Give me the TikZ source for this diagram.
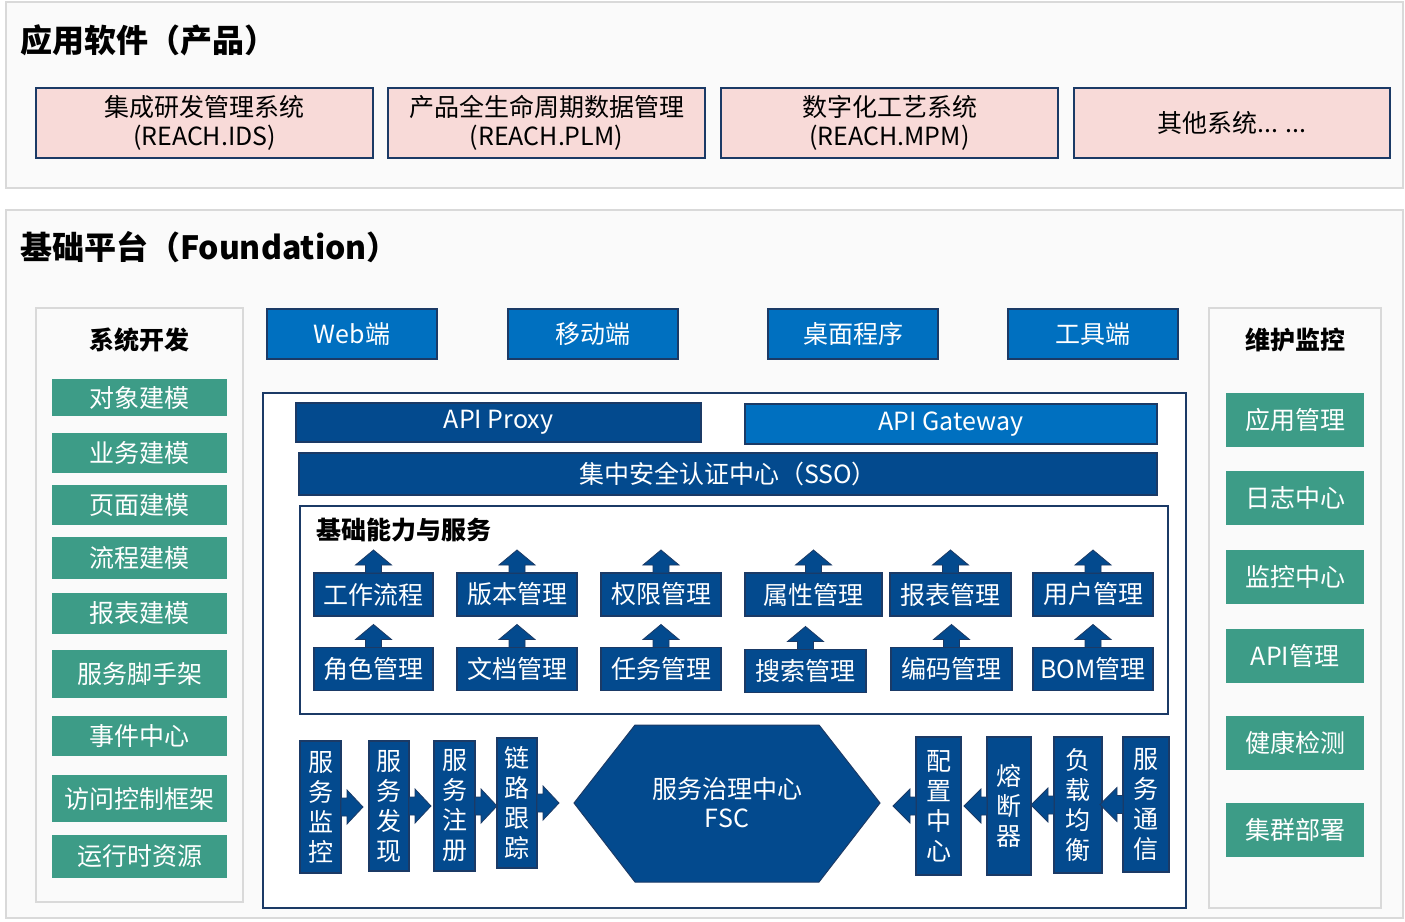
\documentclass[tikz,border=0pt]{standalone}
\usepackage{fontspec}
\setmainfont{Noto Sans CJK SC}
\definecolor{fbdark}{HTML}{034A8E}
\definecolor{fbedge}{HTML}{1B3A66}
\definecolor{fblight}{HTML}{0070C0}
\definecolor{fbpink}{HTML}{F8DAD8}
\definecolor{fbgreen}{HTML}{3D9C87}
\definecolor{panelfill}{HTML}{FAFAFA}
\definecolor{panelline}{HTML}{D9D9D9}
\newcommand\uparr[1]{\filldraw[fbdark,draw=fbedge,line width=0.8pt] (#1.north) ++(-8,0) -- ++(0,-8) -- ++(-10,0) -- ++(18,-15) -- ++(18,15) -- ++(-10,0) -- ++(0,8) -- cycle;}
\newcommand\rarr[1]{\filldraw[fbdark,draw=fbedge,line width=0.8pt] (#1.east) ++(0,-9) -- ++(6,0) -- ++(0,-8) -- ++(16,17) -- ++(-16,17) -- ++(0,-8) -- ++(-6,0) -- cycle;}
\newcommand\larr[1]{\filldraw[fbdark,draw=fbedge,line width=0.8pt] (#1.west) ++(0,-9) -- ++(-6,0) -- ++(0,-8) -- ++(-17,17) -- ++(17,17) -- ++(0,-8) -- ++(6,0) -- cycle;}
\begin{document}
\begin{tikzpicture}[x=1pt,y=-1pt,
  every node/.style={inner sep=0pt,outer sep=0pt,font=\fontsize{25}{29}\selectfont},
  title/.style={anchor=west,font=\fontsize{32}{36}\selectfont\bfseries},
  subtitle/.style={font=\fontsize{25}{29}\selectfont\bfseries},
  pinkbox/.style={draw=fbedge,fill=fbpink,line width=2pt,align=center,minimum height=70pt},
  client/.style={draw=fbedge,fill=fblight,text=white,line width=2pt,minimum width=170pt,minimum height=50pt},
  bar/.style={draw=fbedge,fill=fbdark,text=white,line width=1.5pt},
  svc/.style={draw=fbedge,fill=fbdark,text=white,line width=1.5pt,minimum height=43pt},
  vsvc/.style={draw=fbedge,fill=fbdark,text=white,line width=1.5pt,align=center,font=\fontsize{25}{30}\selectfont},
  greenbox/.style={fill=fbgreen,text=white,minimum width=175pt},
  greenbox2/.style={fill=fbgreen,text=white,minimum width=138pt,minimum height=54pt}]
\useasboundingbox (0,0) rectangle (1405,921);
\fill[white] (0,0) rectangle (1405,921);

\draw[panelline,fill=panelfill,line width=2pt] (6,2) rectangle (1403,188);
\draw[panelline,fill=panelfill,line width=2pt] (6,210) rectangle (1403,918);
\node[title] (app) at (20,40) {应用软件（产品）};
\node[title] (fd) at (20,247) {基础平台（Foundation）};

\node[pinkbox,minimum width=337pt] (ids) at (204.5,123) {集成研发管理系统\\(REACH.IDS)};
\node[pinkbox,minimum width=317pt] (plm) at (546.5,123) {产品全生命周期数据管理\\(REACH.PLM)};
\node[pinkbox,minimum width=337pt] (mpm) at (889.5,123) {数字化工艺系统\\(REACH.MPM)};
\node[pinkbox,minimum width=316pt] (other) at (1232,123) {其他系统... ...};

\draw[panelline,fill=panelfill,line width=2pt] (36,308) rectangle (243,902);
\node[subtitle] (dev) at (139,340) {系统开发};
\node[greenbox,minimum height=37pt] (g1) at (139.5,397.5) {对象建模};
\node[greenbox,minimum height=40pt] (g2) at (139.5,453) {业务建模};
\node[greenbox,minimum height=40pt] (g3) at (139.5,505) {页面建模};
\node[greenbox,minimum height=42pt] (g4) at (139.5,558) {流程建模};
\node[greenbox,minimum height=41pt] (g5) at (139.5,613.5) {报表建模};
\node[greenbox,minimum height=48pt] (g6) at (139.5,674) {服务脚手架};
\node[greenbox,minimum height=40pt] (g7) at (139.5,736) {事件中心};
\node[greenbox,minimum height=47pt] (g8) at (139.5,798.5) {访问控制框架};
\node[greenbox,minimum height=43pt] (g9) at (139.5,856.5) {运行时资源};

\draw[panelline,fill=panelfill,line width=2pt] (1209,308) rectangle (1381,908);
\node[subtitle] (ops) at (1295,340) {维护监控};
\node[greenbox2] (m1) at (1295,420) {应用管理};
\node[greenbox2] (m2) at (1295,498) {日志中心};
\node[greenbox2] (m3) at (1295,576.5) {监控中心};
\node[greenbox2] (m4) at (1295,655.5) {API管理};
\node[greenbox2] (m5) at (1295,742.5) {健康检测};
\node[greenbox2] (m6) at (1295,829.5) {集群部署};

\node[client] (web) at (352,334) {Web端};
\node[client] (mobile) at (592.5,334) {移动端};
\node[client] (desk) at (853,334) {桌面程序};
\node[client] (tool) at (1093,334) {工具端};

\draw[fbedge,fill=white,line width=2pt] (263,393) rectangle (1186,908);
\node[bar,minimum width=405pt,minimum height=39pt] (proxy) at (498.5,422.5) {API Proxy};
\node[bar,fill=fblight,minimum width=412pt,minimum height=40pt] (gw) at (951,424) {API Gateway};
\node[bar,minimum width=858pt,minimum height=42pt] (sso) at (728,474) {集中安全认证中心（SSO）};

\draw[fbedge,fill=white,line width=2pt] (300,506) rectangle (1168,714);
\node[subtitle,anchor=west] (base) at (316,530) {基础能力与服务};

\node[svc,minimum width=119pt] (s1) at (373.5,594.5) {工作流程};
\node[svc,minimum width=120pt] (s2) at (517,594.5) {版本管理};
\node[svc,minimum width=120pt] (s3) at (661,594.5) {权限管理};
\node[svc,minimum width=137pt] (s4) at (813.5,594.5) {属性管理};
\node[svc,minimum width=121pt] (s5) at (950.5,594.5) {报表管理};
\node[svc,minimum width=120pt] (s6) at (1093,594.5) {用户管理};
\node[svc,minimum width=119pt] (t1) at (373.5,669) {角色管理};
\node[svc,minimum width=120pt] (t2) at (517,669) {文档管理};
\node[svc,minimum width=120pt] (t3) at (661,669) {任务管理};
\node[svc,minimum width=121pt] (t4) at (805.5,671) {搜索管理};
\node[svc,minimum width=121pt] (t5) at (951.5,669) {编码管理};
\node[svc,minimum width=120pt] (t6) at (1093,669) {BOM管理};
\foreach \n in {s1,s2,s3,s4,s5,s6,t1,t2,t3,t4,t5,t6} {\uparr{\n}}

\node[vsvc,minimum width=41pt,minimum height=132pt] (monitor) at (320.5,807) {服\\务\\监\\控};
\node[vsvc,minimum width=40pt,minimum height=130pt] (discover) at (389,806) {服\\务\\发\\现};
\node[vsvc,minimum width=41pt,minimum height=130pt] (register) at (454.5,806) {服\\务\\注\\册};
\node[vsvc,minimum width=40pt,minimum height=130pt] (trace) at (517,803) {链\\路\\跟\\踪};
\node[vsvc,minimum width=45pt,minimum height=138pt] (config) at (938.5,806) {配\\置\\中\\心};
\node[vsvc,minimum width=44pt,minimum height=138pt] (breaker) at (1009,806) {熔\\断\\器};
\node[vsvc,minimum width=48pt,minimum height=136pt] (balance) at (1078,805) {负\\载\\均\\衡};
\node[vsvc,minimum width=46pt,minimum height=135pt] (comm) at (1146,804.5) {服\\务\\通\\信};
\foreach \n in {monitor,discover,register,trace} {\rarr{\n}}
\foreach \n in {config,breaker,balance,comm} {\larr{\n}}

\filldraw[fbdark,draw=fbedge,line width=1pt] (574,803) -- (635,725) -- (819,725) -- (880,803) -- (819,882) -- (635,882) -- cycle;
\node[text=white,align=center] (fsc) at (727,803) {服务治理中心\\FSC};
\end{tikzpicture}
\end{document}
